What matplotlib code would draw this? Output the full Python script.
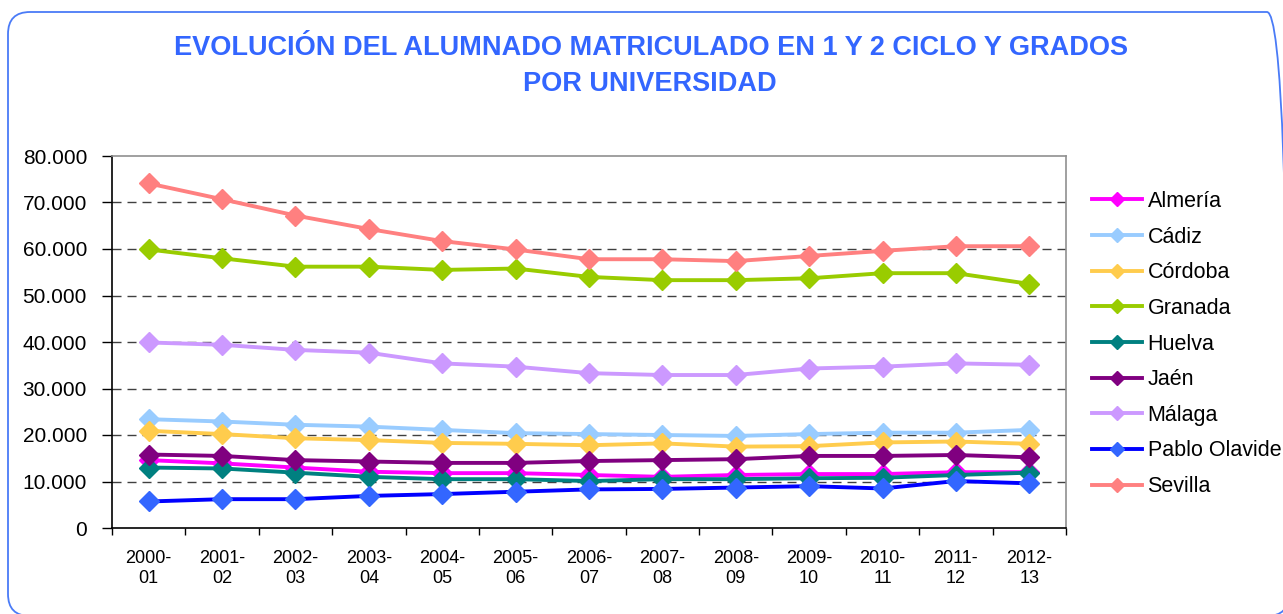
import matplotlib
matplotlib.use("Agg")
import matplotlib.pyplot as plt
from matplotlib.patches import FancyBboxPatch
from matplotlib.transforms import IdentityTransform
from matplotlib.ticker import FixedLocator, FuncFormatter

plt.rcParams['font.family'] = ['Liberation Sans', 'DejaVu Sans']
plt.rcParams['ytick.labelsize'] = 15
plt.rcParams['xtick.labelsize'] = 13

cursos = ['2000-\n01', '2001-\n02', '2002-\n03', '2003-\n04', '2004-\n05', '2005-\n06',
          '2006-\n07', '2007-\n08', '2008-\n09', '2009-\n10', '2010-\n11', '2011-\n12',
          '2012-\n13']

almeria = [14600, 13900, 13000, 12100, 11800, 11800, 11400, 11000, 11400, 11600, 11600, 12000, 12000]
cadiz = [23400, 22900, 22200, 21800, 21100, 20400, 20200, 20000, 19800, 20200, 20500, 20500, 21100]
cordoba = [20900, 20200, 19300, 18900, 18300, 18100, 17800, 18200, 17500, 17600, 18400, 18600, 18100]
granada = [59900, 58000, 56200, 56200, 55500, 55800, 54000, 53300, 53300, 53700, 54800, 54800, 52500]
huelva = [13000, 12800, 11900, 11000, 10500, 10500, 10100, 10500, 10500, 10700, 10800, 11400, 11900]
jaen = [15800, 15500, 14600, 14300, 14000, 14000, 14400, 14600, 14800, 15500, 15500, 15700, 15200]
malaga = [39900, 39400, 38300, 37700, 35400, 34700, 33300, 32900, 32900, 34300, 34700, 35400, 35100]
pablo_olavide = [5700, 6200, 6200, 6900, 7300, 7800, 8300, 8400, 8700, 9000, 8500, 10100, 9600]
sevilla = [74100, 70700, 67200, 64300, 61700, 59900, 57800, 57800, 57400, 58500, 59600, 60600, 60600]

series = [
    ('Almería', almeria, '#FF00FF', '#FF00FF'),
    ('Cádiz', cadiz, '#99CCFF', '#99CCFF'),
    ('Córdoba', cordoba, '#FFCC4D', '#FFCC4D'),
    ('Granada', granada, '#99CC00', '#99CC00'),
    ('Huelva', huelva, '#008080', '#008080'),
    ('Jaén', jaen, '#800080', '#800080'),
    ('Málaga', malaga, '#CC99FF', '#CC99FF'),
    ('Pablo Olavide', pablo_olavide, '#0000FF', '#3366FF'),
    ('Sevilla', sevilla, '#FF8080', '#FF8080'),
]

fig = plt.figure(figsize=(12.83, 6.14), dpi=100)
fig.patch.set_facecolor('white')

# rounded frame around the whole chart (pixel coords)
frame = FancyBboxPatch((8, -2), 1281, 604, boxstyle='round,pad=0,rounding_size=22',
                       transform=IdentityTransform(), facecolor='none',
                       edgecolor='#4A7BF7', linewidth=1.3, clip_on=False)
fig.patches.append(frame)

fig.text(651 / 1283, 1 - 48 / 614, 'EVOLUCIÓN DEL ALUMNADO MATRICULADO EN 1 Y 2 CICLO Y GRADOS',
         ha='center', va='center', fontsize=19.5, fontweight='bold', color='#3366FF')
fig.text(650 / 1283, 1 - 84 / 614, 'POR UNIVERSIDAD',
         ha='center', va='center', fontsize=19.5, fontweight='bold', color='#3366FF')

ax = fig.add_axes([112 / 1283, 1 - 528 / 614, (1066 - 112) / 1283, (528 - 156) / 614])

x = list(range(len(cursos)))
for nombre, valores, color_linea, color_marca in series:
    ax.plot(x, valores, color=color_linea, lw=2.8, marker='D', markersize=10,
            markerfacecolor=color_marca, markeredgecolor=color_marca, label=nombre)

ax.set_xlim(-0.5, len(cursos) - 0.5)
ax.set_ylim(0, 80000)
ax.set_yticks(range(0, 80001, 10000))
ax.yaxis.set_major_formatter(FuncFormatter(lambda v, p: '0' if v == 0 else f'{int(v):,}'.replace(',', '.')))

ax.set_xticks(x)
ax.set_xticklabels(cursos)
ax.xaxis.set_minor_locator(FixedLocator([i - 0.5 for i in range(len(cursos) + 1)]))
ax.tick_params(axis='x', which='major', length=0, pad=16, labelcolor='black', labelsize=13)
ax.tick_params(axis='x', which='minor', length=5, width=1, color='black', direction='out')
ax.tick_params(axis='y', length=7, width=1, pad=11, direction='out', labelsize=15)

for y in range(10000, 80000, 10000):
    ax.axhline(y, color='#404040', lw=1, linestyle=(0, (6.5, 4.3)), zorder=0.5)

ax.spines['left'].set_color('black')
ax.spines['bottom'].set_color('black')
ax.spines['top'].set_color('#909090')
ax.spines['right'].set_color('#909090')
for s in ax.spines.values():
    s.set_linewidth(1.2)

leg = ax.legend(loc='upper left', bbox_to_anchor=(1092 / 1283, 1 - 191 / 614),
                bbox_transform=fig.transFigure, frameon=False, fontsize=15.5,
                handlelength=2.3, handletextpad=0.28, labelspacing=0.68, borderaxespad=0,
                borderpad=0, markerscale=0.75)

fig.savefig('out.png', dpi=100, facecolor='white')
